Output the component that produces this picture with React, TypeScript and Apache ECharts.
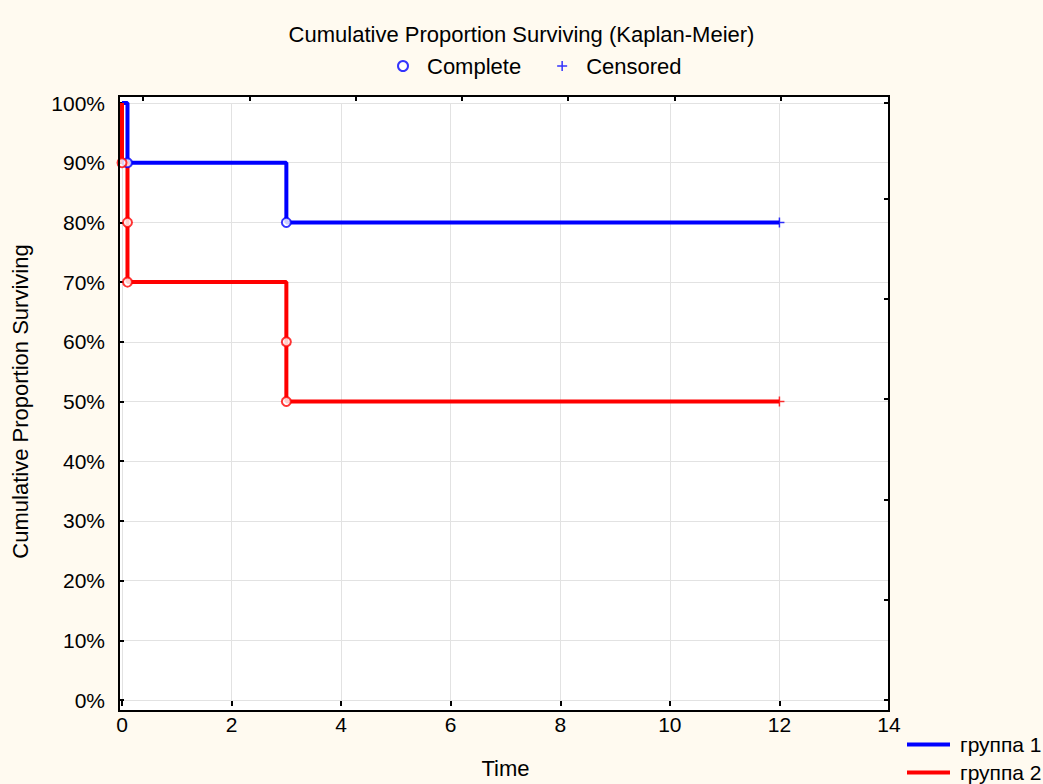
import React, { useEffect, useRef } from "react";
import * as echarts from "echarts";

// ---- data ----
const xTicks = [0, 2, 4, 6, 8, 10, 12, 14];
const group1Times = [0, 0.1, 3, 12];
const group1Surv = [1, 0.9, 0.8, 0.8];
const group2Times = [0, 0, 0.1, 0.1, 3, 3, 12];
const group2Surv = [1, 0.9, 0.8, 0.7, 0.6, 0.5, 0.5];
const completeG1Times = [0.1, 3];
const completeG1Surv = [0.9, 0.8];
const completeG2Times = [0, 0.1, 0.1, 3, 3];
const completeG2Surv = [0.9, 0.8, 0.7, 0.6, 0.5];
const censoredG1Times = [12];
const censoredG1Surv = [0.8];
const censoredG2Times = [12];
const censoredG2Surv = [0.5];
const topTickValues = [0.2, 1.2, 2.2, 3.2, 4.2, 5.2, 6.2];

const BLUE = "#0000FF";
const RED = "#FF0000";
const BG = "#FFFAF0";
const FONT = "Liberation Sans, Arial, sans-serif";

const zip = (xs: number[], ys: number[]) => xs.map((x, i) => [x, ys[i]]);

const PLUS = "path://M0,4.25H10V5.75H0Z M4.25,0H5.75V10H4.25Z";

export default function App() {
  const ref = useRef<HTMLDivElement>(null);
  useEffect(() => {
    document.body.style.margin = "0";
    document.body.style.background = BG;
    const chart = echarts.init(ref.current!, null, { renderer: "svg" });
    const G = { left: 122, top: 103, width: 767, height: 602 };
    const tickStyle = { show: true, inside: true, length: 5, lineStyle: { color: "#000", width: 2 } };
    const noLine = { show: false, onZero: false };
    chart.setOption({
      animation: false,
      backgroundColor: BG,
      textStyle: { fontFamily: FONT },
      title: {
        text: "Cumulative Proportion Surviving (Kaplan-Meier)",
        left: "center",
        top: 18,
        textStyle: { fontSize: 22, fontWeight: "normal", color: "#000", fontFamily: FONT },
      },
      legend: [
        {
          data: ["Complete", "Censored"],
          left: 397,
          top: 55,
          padding: 0,
          itemWidth: 10,
          itemHeight: 10,
          itemGap: 36,
          textStyle: { fontSize: 22, color: "#000", padding: [0, 0, 0, 14], fontFamily: FONT },
        },
        {
          data: ["группа 1", "группа 2"],
          orient: "vertical",
          left: 907,
          top: 734,
          padding: 0,
          itemWidth: 43,
          itemHeight: 4,
          itemGap: 7,
          icon: "rect",
          textStyle: { fontSize: 21, color: "#000", padding: [0, 0, 0, 5], fontFamily: FONT },
        },
      ],
      grid: { ...G, containLabel: false },
      graphic: [
        {
          type: "rect",
          z: -10,
          silent: true,
          shape: { x: 119, y: 96, width: 770, height: 615 },
          style: { fill: "#fff", stroke: null },
        },
        {
          type: "rect",
          z: 100,
          silent: true,
          shape: { x: 119, y: 96, width: 770, height: 615 },
          style: { fill: null, stroke: "#000", lineWidth: 2 },
        },
      ],
      xAxis: [
        {
          type: "value",
          min: 0,
          max: 14,
          interval: 2,
          position: "bottom",
          offset: 6,
          name: "Time",
          nameLocation: "middle",
          nameGap: 51,
          nameTextStyle: { fontSize: 22, color: "#000", fontFamily: FONT },
          axisLine: noLine,
          axisTick: tickStyle,
          axisLabel: { fontSize: 21, color: "#000", margin: 8, fontFamily: FONT },
          splitLine: { show: true, lineStyle: { color: "#E2E2E2", width: 1 } },
          data: xTicks,
        },
        {
          type: "value",
          min: 0,
          max: 7.22,
          position: "top",
          offset: 7,
          axisLine: noLine,
          axisTick: { ...tickStyle, customValues: topTickValues },
          axisLabel: { show: false, customValues: topTickValues },
          splitLine: { show: false },
        },
      ],
      yAxis: [
        {
          type: "value",
          min: 0,
          max: 1,
          interval: 0.1,
          position: "left",
          offset: 3,
          name: "Cumulative Proportion Surviving",
          nameLocation: "middle",
          nameGap: 88,
          nameTextStyle: { fontSize: 22, color: "#000", fontFamily: FONT },
          axisLine: noLine,
          axisTick: tickStyle,
          axisLabel: {
            fontSize: 21,
            color: "#000",
            margin: 14,
            fontFamily: FONT,
            formatter: (v: number) => Math.round(v * 100) + "%",
          },
          splitLine: { show: true, lineStyle: { color: "#E2E2E2", width: 1 } },
        },
        {
          type: "value",
          min: 0,
          max: 5.95,
          interval: 1,
          position: "right",
          axisLine: noLine,
          axisTick: tickStyle,
          axisLabel: { show: false },
          splitLine: { show: false },
        },
      ],
      series: [
        {
          name: "группа 1",
          type: "line",
          step: "end",
          data: zip(group1Times, group1Surv),
          showSymbol: false,
          clip: false,
          color: BLUE,
          lineStyle: { color: BLUE, width: 4 },
          z: 3,
        },
        {
          name: "группа 2",
          type: "line",
          step: "end",
          data: zip(group2Times, group2Surv),
          showSymbol: false,
          clip: false,
          color: RED,
          lineStyle: { color: RED, width: 4 },
          z: 4,
        },
        {
          name: "Complete",
          type: "scatter",
          symbol: "emptyCircle",
          symbolSize: 9,
          clip: false,
          itemStyle: { color: BLUE, borderColor: BLUE, borderWidth: 2 },
          data: [
            ...zip(completeG1Times, completeG1Surv).map((p) => ({ value: p })),
            ...zip(completeG2Times, completeG2Surv).map((p) => ({
              value: p,
              itemStyle: { color: RED, borderColor: RED },
            })),
          ],
          z: 5,
        },
        {
          name: "Censored",
          type: "scatter",
          symbol: PLUS,
          symbolSize: 10,
          clip: false,
          itemStyle: { color: BLUE },
          data: [
            ...zip(censoredG1Times, censoredG1Surv).map((p) => ({ value: p })),
            ...zip(censoredG2Times, censoredG2Surv).map((p) => ({
              value: p,
              itemStyle: { color: RED },
            })),
          ],
          z: 5,
        },
      ],
    });
    return () => chart.dispose();
  }, []);
  return <div ref={ref} style={{ width: 1043, height: 784 }} />;
}
